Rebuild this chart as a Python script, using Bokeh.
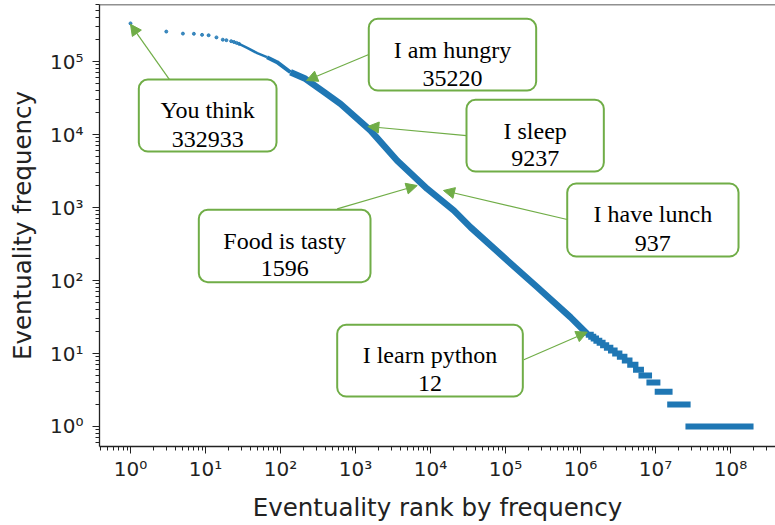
from bokeh.plotting import figure
from bokeh.models import BoxAnnotation, Label, Arrow, NormalHead, FixedTicker, Span, Range1d
from bokeh.embed import file_html
from bokeh.resources import INLINE

# ---------------- data ----------------
head_rank = [1, 3, 5, 7, 9, 11, 14, 17, 19, 22, 24, 26, 28]
head_freq = [332933, 257000, 241000, 240000, 232000, 229000, 214000, 199000,
             196000, 190000, 185000, 180000, 175000]

curve_rank = [28, 36, 49, 66, 90, 136, 215, 378, 631, 1585, 3594, 9036, 20470,
              34150, 94900, 264800, 735600, 1228000]
curve_freq = [175000, 154000, 130000, 114600, 97800, 71300, 57900, 38350, 26300,
              11350, 4400, 1804, 910, 537, 208, 81, 31.4, 18.6]

step_freq = [1, 2, 3, 4, 5, 6, 7, 8, 9, 10, 11, 12, 13, 14, 15, 16, 17, 18]
step_first_rank = [2.75e7, 1.57e7, 1.07e7, 8.3e6, 6.5e6, 5.5e6, 4.6e6, 3.9e6, 3.35e6,
                   2.9e6, 2.55e6, 2.25e6, 2.0e6, 1.8e6, 1.63e6, 1.5e6, 1.39e6, 1.29e6]
step_last_rank = [1.85e8, 2.68e7, 1.54e7, 1.06e7, 8.2e6, 6.4e6, 5.4e6, 4.5e6, 3.85e6,
                  3.3e6, 2.85e6, 2.5e6, 2.2e6, 1.97e6, 1.78e6, 1.61e6, 1.48e6, 1.37e6]

note_event = ["You think", "I am hungry", "I sleep", "I have lunch", "Food is tasty", "I learn python"]
note_count = [332933, 35220, 9237, 937, 1596, 12]

x_tick_exp = [0, 1, 2, 3, 4, 5, 6, 7, 8]
y_tick_exp = [0, 1, 2, 3, 4, 5]
sup = {0: "\u2070", 1: "\u00b9", 2: "\u00b2", 3: "\u00b3", 4: "\u2074",
       5: "\u2075", 6: "\u2076", 7: "\u2077", 8: "\u2078"}

# ---------------- annotation layout (log10 rank / log10 freq) ----------------
box_lx0 = [0.111, 3.177, 4.480, 5.823, 0.911, 2.756]
box_lx1 = [1.947, 5.409, 6.311, 8.107, 3.200, 5.231]
box_ly0 = [3.767, 4.603, 3.493, 2.329, 1.977, 0.411]
box_ly1 = [4.753, 5.585, 4.475, 3.329, 2.968, 1.393]
line1_ly = [4.329, 5.160, 4.045, 2.914, 2.538, 0.973]
line2_ly = [3.927, 4.763, 3.667, 2.511, 2.160, 0.585]
arr_sx = [0.520, 3.177, 4.480, 5.823, 2.756, 5.244]
arr_sy = [4.753, 5.096, 3.986, 2.836, 2.982, 0.914]
arr_ex = [0.000, 2.347, 3.164, 4.173, 3.823, 6.089]
arr_ey = [5.510, 4.740, 4.110, 3.233, 3.301, 1.292]

BLUE = "#1f77b4"
GREEN = "#70ad47"
INK = "#222222"
Y_TOP = 10 ** 5.781

p = figure(
    x_axis_type="log", y_axis_type="log",
    x_range=Range1d(10 ** -0.4133, 10 ** 8.6),
    y_range=Range1d(10 ** -0.274, Y_TOP),
    frame_width=676, frame_height=442,
    min_border_left=99, min_border_right=0, min_border_top=4, min_border_bottom=0,
    output_backend="svg", toolbar_location=None,
    background_fill_color="white", border_fill_color="white",
)
p.outline_line_color = None
p.grid.visible = False

# data marks
p.scatter(head_rank, head_freq, size=3, color=BLUE, alpha=0.85)
p.line(curve_rank[0:4], curve_freq[0:4], line_width=2.5, color=BLUE, line_join="round")
p.line(curve_rank[3:6], curve_freq[3:6], line_width=4, color=BLUE, line_join="round")
p.line(curve_rank[5:], curve_freq[5:], line_width=6.5, color=BLUE, line_join="round")
p.segment(x0=step_first_rank, y0=step_freq, x1=step_last_rank, y1=step_freq,
          line_width=6, color=BLUE, line_cap="square")

# axes
for ax, major_exp, lo, hi in ((p.xaxis, x_tick_exp, -1, 9), (p.yaxis, y_tick_exp, -1, 6)):
    majors = [10.0 ** k for k in major_exp]
    minors = [m * 10.0 ** k for k in range(lo, hi) for m in range(2, 10)]
    ax.ticker = FixedTicker(ticks=majors, minor_ticks=minors)
    ax.major_label_overrides = {10.0 ** k: "10" + sup[k] for k in major_exp}
    ax.axis_line_color = INK
    ax.axis_line_width = 1.3
    ax.major_tick_line_color = INK
    ax.minor_tick_line_color = INK
    ax.major_tick_out = 7
    ax.major_tick_in = 0
    ax.minor_tick_out = 4
    ax.minor_tick_in = 0
    ax.major_label_text_font = "DejaVu Sans"
    ax.major_label_text_font_size = "20px"
    ax.major_label_text_color = INK
    ax.axis_label_text_font = "DejaVu Sans"
    ax.axis_label_text_font_size = "24.5px"
    ax.axis_label_text_font_style = "normal"
    ax.axis_label_text_color = INK

p.xaxis.axis_label = "Eventuality rank by frequency"
p.yaxis.axis_label = "Eventuality frequency"
p.xaxis.major_label_standoff = 3
p.xaxis.axis_label_standoff = 9
p.yaxis.major_label_standoff = 9
p.yaxis.axis_label_standoff = 10

p.add_layout(Span(location=Y_TOP, dimension="width", line_color=INK, line_width=1.3))

# annotations
for i in range(len(note_event)):
    p.add_layout(BoxAnnotation(left=10 ** box_lx0[i], right=10 ** box_lx1[i],
                               bottom=10 ** box_ly0[i], top=10 ** box_ly1[i],
                               fill_color="white", fill_alpha=1.0,
                               line_color=GREEN, line_width=2, line_alpha=1.0,
                               border_radius=9))
for i in range(len(note_event)):
    p.add_layout(Arrow(end=NormalHead(size=11, fill_color=GREEN, line_color=GREEN, line_width=1),
                       x_start=10 ** arr_sx[i], y_start=10 ** arr_sy[i],
                       x_end=10 ** arr_ex[i], y_end=10 ** arr_ey[i],
                       line_color=GREEN, line_width=1.2))
for i in range(len(note_event)):
    cx = 10 ** ((box_lx0[i] + box_lx1[i]) / 2)
    for txt, ly in ((note_event[i], line1_ly[i]), (str(note_count[i]), line2_ly[i])):
        p.add_layout(Label(x=cx, y=10 ** ly, text=txt, text_align="center",
                           text_baseline="alphabetic", text_font="Liberation Serif",
                           text_font_size="24px", text_color="black"))

open("out.html", "w").write(file_html(p, INLINE))
